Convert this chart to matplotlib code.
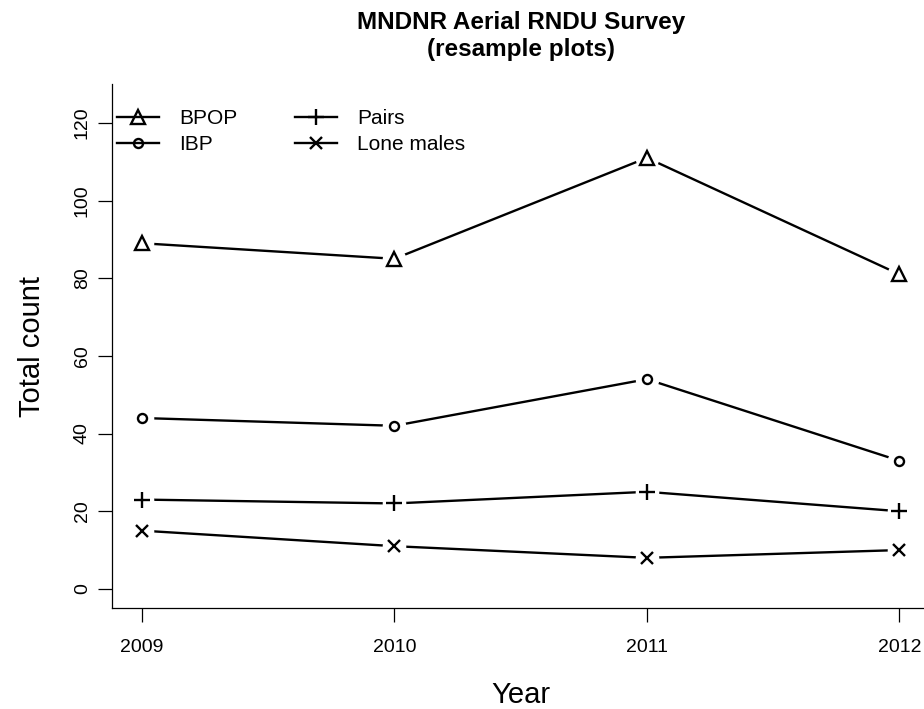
import matplotlib
matplotlib.use("Agg")
import matplotlib.pyplot as plt
from matplotlib.lines import Line2D

plt.rcParams["font.family"] = ["Liberation Sans", "DejaVu Sans"]

years = [2009, 2010, 2011, 2012]
bpop = [89, 85, 111, 81]
ibp = [44, 42, 54, 33]
pairs = [23, 22, 25, 20]
lone_males = [15, 11, 8, 10]

series_names = ["BPOP", "IBP", "Pairs", "Lone males"]
series_values = [bpop, ibp, pairs, lone_males]
markers = ["^", "o", "+", "x"]
marker_sizes = [9.5, 6.5, 11, 8]

fig = plt.figure(figsize=(9.24, 7.09), dpi=100)
ax = fig.add_axes([0.1209, 0.1420, 0.8852, 0.7395])

line_w = 1.7
for vals, m, ms in zip(series_values, markers, marker_sizes):
    # connecting line, broken around each point (type "b" look)
    ax.plot(years, vals, color="black", lw=line_w, zorder=2,
            solid_capstyle="butt")
    ax.plot(years, vals, linestyle="none", marker="o", ms=17,
            mfc="white", mec="none", zorder=3)
    ax.plot(years, vals, linestyle="none", marker=m, ms=ms,
            mfc="none", mec="black", mew=1.7, zorder=4)

ax.set_xlim(2008.88, 2012.12)
ax.set_ylim(-5, 130)
ax.set_xticks(years)
ax.set_xticklabels([str(y) for y in years])
ax.set_yticks(range(0, 121, 20))
ax.set_yticklabels([str(v) for v in range(0, 121, 20)], rotation=90,
                   va="center")

for side in ("top", "right"):
    ax.spines[side].set_visible(False)
for side in ("left", "bottom"):
    ax.spines[side].set_linewidth(0.9)

ax.tick_params(axis="both", direction="out", length=10, width=0.9,
               labelsize=14, colors="black")
ax.tick_params(axis="x", pad=12)
ax.tick_params(axis="y", pad=5)

ax.set_xlabel("Year", fontsize=21, labelpad=18)
ax.set_ylabel("Total count", fontsize=21, labelpad=20)
ax.set_title("MNDNR Aerial RNDU Survey\n(resample plots)",
             fontsize=17.5, fontweight="bold", pad=20, linespacing=1.22)

handles = [Line2D([], [], color="black", lw=line_w, marker=m, ms=ms,
                  mfc="none", mec="black", mew=1.7)
           for m, ms in zip(markers, marker_sizes)]
ax.legend(handles, series_names, loc="upper left",
          bbox_to_anchor=(0.007, 0.952), ncol=2, frameon=False,
          fontsize=15, handlelength=2.0, handletextpad=0.95,
          columnspacing=2.8, labelspacing=0.33, borderpad=0,
          borderaxespad=0)

fig.savefig("out.png", dpi=100, facecolor="white")
